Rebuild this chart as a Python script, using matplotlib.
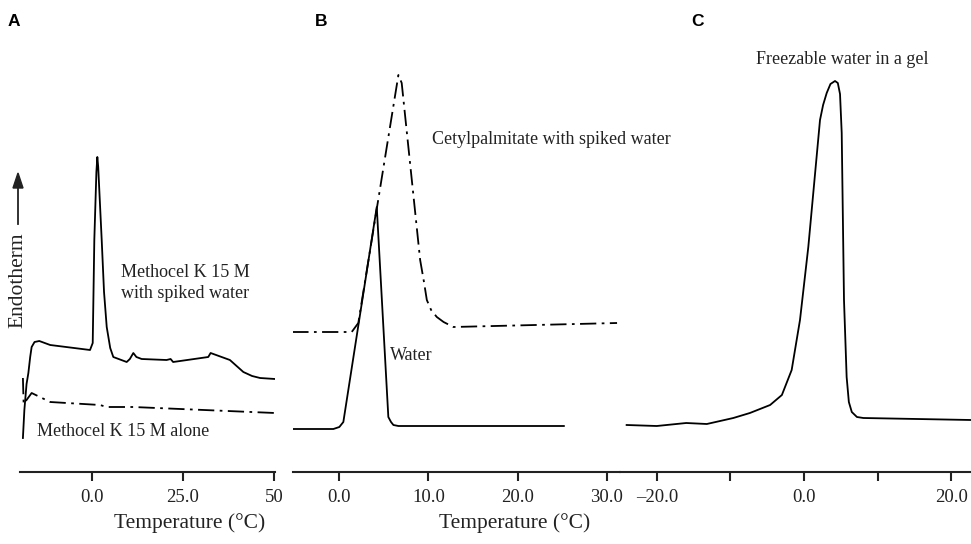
import numpy as np
import matplotlib.pyplot as plt

plt.rcParams['font.family'] = 'Liberation Serif'

# Panel A: Methocel K 15 M (temperature degC, signal in arbitrary units)
a_spiked_t = [-19.0, -18.6, -18.0, -17.5, -17.0, -16.6, -15.8, -14.5, -11.5, -0.55, 0.19, 0.63,
              1.2, 1.46, 1.7, 2.0, 2.66, 3.3, 4.04, 5.0, 5.85, 9.53, 10.4, 11.35, 12.2, 13.65,
              20.5, 21.6, 22.3, 31.95, 32.6, 37.9, 41.6, 44.0, 46.2, 50.3]
a_spiked_y = [34, 62, 88, 99, 115, 125, 130, 131, 127, 122, 129, 232,
              300, 315, 305, 282, 232, 180, 145, 124, 115, 110, 113, 119, 115, 113,
              112, 113, 110, 115, 119, 112, 100, 96, 94, 93]
a_alone_t = [-19.0, -18.8, -16.6, -11.5, 2.2, 4.0, 11.3, 50.3]
a_alone_y = [94, 68, 79, 70, 67, 65, 65, 59]

# Panel B: water and cetylpalmitate with spiked water
b_water_t = [-5.28, -0.67, 0.0, 0.45, 4.2, 5.5, 5.8, 6.07, 6.63, 25.2]
b_water_y = [43, 43, 45, 50, 265, 55, 50, 47, 46, 46]
b_cetyl_t = [-5.28, 1.39, 2.13, 6.63, 7.0, 9.07, 9.5, 9.82, 10.3, 10.94, 11.7, 12.8, 31.17]
b_cetyl_y = [140, 140, 149, 397, 389, 212, 190, 172, 162, 155, 150, 145, 149]

# Panel C: freezable water in a gel
c_gel_t = [-24.1, -20.0, -16.0, -13.2, -9.6, -7.35, -4.6, -3.0, -1.67, -0.54, 0.59, 2.18,
           2.6, 3.09, 3.6, 4.22, 4.6, 4.9, 5.13, 5.44, 5.8, 6.1, 6.5, 7.2, 8.07, 22.7]
c_gel_y = [47, 46, 49, 48, 54, 59, 67, 77, 102, 152, 225, 352,
           367, 379, 388, 391, 389, 378, 339, 172, 95, 70, 60, 55, 54, 52]

W, H = 971, 544
fig = plt.figure(figsize=(W / 100, H / 100), dpi=100)

def px_axes(x0, x1, y_axis=472, y_top=60):
    return fig.add_axes([x0 / W, (H - y_axis) / H, (x1 - x0) / W, (y_axis - y_top) / H])

dd = (0, (9, 3, 1.5, 3))
lw = 1.3

axA = px_axes(20, 275)
axA.plot(a_spiked_t, a_spiked_y, color='black', lw=lw)
axA.plot(a_alone_t, a_alone_y, color='black', lw=lw, linestyle=dd)
axA.set_xlim(-19.8, 50.3)
axA.set_xticks([0, 25, 50])
axA.set_xticklabels(['0.0', '25.0', '50'])

axB = px_axes(293, 620)
axB.plot(b_water_t, b_water_y, color='black', lw=lw)
axB.plot(b_cetyl_t, b_cetyl_y, color='black', lw=lw, linestyle=dd)
axB.set_xlim(-5.2, 31.5)
axB.set_xticks([0, 10, 20, 30])
axB.set_xticklabels(['0.0', '10.0', '20.0', '30.0'])

axC = px_axes(620, 971)
axC.plot(c_gel_t, c_gel_y, color='black', lw=lw)
axC.set_xlim(-25.0, 22.7)
axC.set_xticks([-20, -10, 0, 10, 20])
axC.set_xticklabels(['\u201320.0', '', '0.0', '', '20.0'])

for ax in (axA, axB, axC):
    ax.set_ylim(0, 412)
    ax.set_yticks([])
    for s in ('top', 'right', 'left'):
        ax.spines[s].set_visible(False)
    ax.spines['bottom'].set_linewidth(1.5)
    ax.spines['bottom'].set_color('#222222')
    ax.tick_params(axis='x', direction='out', length=6.5, width=1.5, labelsize=13.5,
                   pad=6, colors='#222222')
    ax.patch.set_alpha(0)

def ftext(x, y, s, **kw):
    fig.text(x / W, 1 - y / H, s, **kw)

ftext(14, 22, 'A', fontsize=12.5, fontweight='bold', family='Liberation Sans', va='center', ha='center')
ftext(321, 22, 'B', fontsize=12.5, fontweight='bold', family='Liberation Sans', va='center', ha='center')
ftext(697, 22, 'C', fontsize=12.5, fontweight='bold', family='Liberation Sans', va='center', ha='center')

ftext(121, 283, 'Methocel K 15 M\nwith spiked water', fontsize=13, va='center', ha='left',
      color='#222222', linespacing=1.3)
ftext(37, 432, 'Methocel K 15 M alone', fontsize=13, va='center', ha='left', color='#222222')
ftext(390, 355, 'Water', fontsize=13, va='center', ha='left', color='#222222')
ftext(432, 140, 'Cetylpalmitate with spiked water', fontsize=13, va='center', ha='left', color='#222222')
ftext(756, 60, 'Freezable water in a gel', fontsize=13, va='center', ha='left', color='#222222')

ftext(190, 523, 'Temperature (\u00b0C)', fontsize=15.5, va='center', ha='center', color='#222222')
ftext(515, 523, 'Temperature (\u00b0C)', fontsize=15.5, va='center', ha='center', color='#222222')

ftext(18, 280, 'Endotherm', fontsize=15.5, rotation=90, va='center', ha='center', color='#222222')
fig.add_artist(plt.Line2D([18 / W, 18 / W], [1 - 224 / H, 1 - 185 / H], color='#222222', lw=1.3))
fig.patches.append(plt.Polygon([[13 / W, 1 - 188 / H], [23 / W, 1 - 188 / H], [18 / W, 1 - 173 / H]],
                               closed=True, color='#222222', transform=fig.transFigure))

fig.savefig('out.png', dpi=100)
